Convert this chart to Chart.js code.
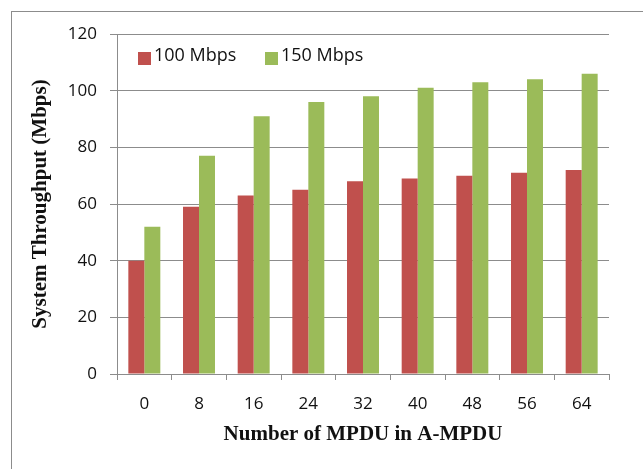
<!DOCTYPE html>
<html>
<head>
<meta charset="utf-8">
<title>System Throughput vs. A-MPDU size</title>
<script src="https://cdn.jsdelivr.net/npm/chart.js@4.4.1/dist/chart.umd.min.js"></script>
<style>
  html, body { margin: 0; padding: 0; background: #ffffff; }
  #chart { display: block; }
</style>
</head>
<body>
<canvas id="chart" width="643" height="469"></canvas>
<script>
// Number of MPDUs aggregated per A-MPDU
const categories = ['0', '8', '16', '24', '32', '40', '48', '56', '64'];

// System throughput (Mbps) for each PHY rate
const throughput100 = [40, 59, 63, 65, 68, 69, 70, 71, 72];
const throughput150 = [52, 77, 91, 96, 98, 101, 103, 104, 106];

const seriesLabels = ['100 Mbps', '150 Mbps'];
const seriesColors = ['#C0504D', '#9BBB59'];

const yTicks = { min: 0, max: 120, step: 20 };

const gridColor = '#8c8c8c';
const tickFont = { family: 'Open Sans', size: 17 };
const titleFont = { family: 'Liberation Serif', size: 21, weight: 'bold' };

// Outer frame around the whole chart
const framePlugin = {
  id: 'frame',
  beforeDraw(chart) {
    const ctx = chart.ctx;
    ctx.save();
    ctx.fillStyle = '#ffffff';
    ctx.fillRect(0, 0, chart.width, chart.height);
    ctx.strokeStyle = '#8c8c8c';
    ctx.lineWidth = 1;
    ctx.strokeRect(11.5, 11.5, chart.width + 20, chart.height + 20);
    ctx.restore();
  }
};

// Legend drawn inside the plot area, top-left
const insideLegend = {
  id: 'insideLegend',
  afterDatasetsDraw(chart) {
    const ctx = chart.ctx;
    const area = chart.chartArea;
    const positions = [area.left + 21, area.left + 148];
    ctx.save();
    ctx.font = '18px "Open Sans"';
    ctx.textBaseline = 'middle';
    ctx.textAlign = 'left';
    chart.data.datasets.forEach((ds, i) => {
      const x = positions[i];
      const y = area.top + 18;
      ctx.fillStyle = ds.backgroundColor;
      ctx.fillRect(x, y, 13, 13);
      ctx.fillStyle = '#111111';
      ctx.fillText(ds.label, x + 16, y + 4);
    });
    ctx.restore();
  }
};

new Chart(document.getElementById('chart'), {
  type: 'bar',
  data: {
    labels: categories,
    datasets: [
      { label: seriesLabels[0], data: throughput100, backgroundColor: seriesColors[0] },
      { label: seriesLabels[1], data: throughput150, backgroundColor: seriesColors[1] }
    ]
  },
  options: {
    responsive: false,
    animation: false,
    devicePixelRatio: 1,
    layout: { padding: { top: 34, right: 34, bottom: 0, left: 0 } },
    datasets: {
      bar: { categoryPercentage: 0.585, barPercentage: 1.0, borderWidth: 0 }
    },
    plugins: {
      legend: { display: false },
      tooltip: { enabled: false }
    },
    scales: {
      x: {
        offset: true,
        grid: {
          offset: true,
          drawOnChartArea: false,
          drawTicks: true,
          tickLength: 6,
          color: gridColor,
          lineWidth: 1
        },
        border: { display: true, color: gridColor, width: 1 },
        ticks: { font: tickFont, color: '#111111', padding: 14, maxRotation: 0 },
        title: {
          display: true,
          text: 'Number of MPDU in A-MPDU',
          font: titleFont,
          color: '#111111',
          padding: { top: 0, bottom: 22 }
        },
        afterFit(scale) { scale.height = 95; }
      },
      y: {
        min: yTicks.min,
        max: yTicks.max,
        grid: {
          drawTicks: true,
          tickLength: 7,
          color: gridColor,
          lineWidth: 1
        },
        border: { display: true, color: gridColor, width: 1 },
        ticks: { stepSize: yTicks.step, font: tickFont, color: '#111111', padding: 13 },
        title: {
          display: true,
          text: 'System Throughput (Mbps)',
          font: titleFont,
          color: '#111111',
          padding: { top: 28, bottom: 0 }
        },
        afterFit(scale) { scale.width = 117; }
      }
    }
  },
  plugins: [framePlugin, insideLegend]
});
</script>
</body>
</html>
